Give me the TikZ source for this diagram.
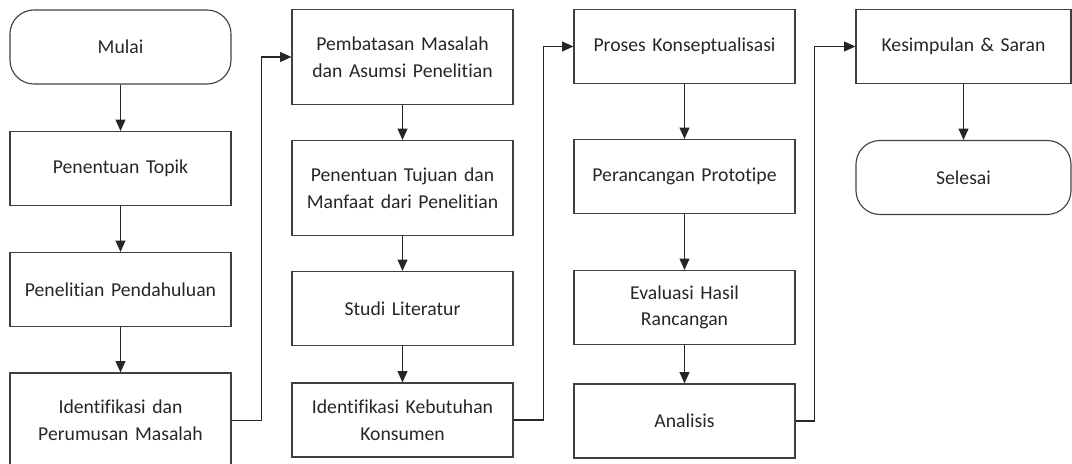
\documentclass[tikz,border=0pt]{standalone}
\usepackage{fontspec}
\setmainfont[Ligatures=NoCommon]{Carlito}
\usetikzlibrary{arrows.meta}
\begin{document}
\begin{tikzpicture}[x=0.025cm, y=-0.025cm,
    box/.style={draw=black!75, line width=0.8pt, minimum width=5.525cm,
      minimum height=1.85cm, text width=5.3cm, align=center, inner sep=0pt,
      text=black!85, font=\fontsize{14}{19}\selectfont},
    tall/.style={minimum height=2.375cm},
    term/.style={box, rounded corners=0.6cm},
    >={Triangle[length=8pt,width=7pt]}]
  \useasboundingbox (0,0) rectangle (1072,464);
  % column 1
  \node[term] (mulai) at (120.5,47) {Mulai};
  \node[box] (topik) at (120.5,168.5) {Penentuan Topik};
  \node[box] (pendahuluan) at (120.5,289.5) {Penelitian Pendahuluan};
  \node[box, tall] (identifikasi) at (120.5,420.5) {Identifikasi dan\\Perumusan Masalah};
  % column 2
  \node[box, tall] (pembatasan) at (402.5,57) {Pembatasan Masalah\\dan Asumsi Penelitian};
  \node[box, tall] (tujuan) at (402.5,188) {Penentuan Tujuan dan\\Manfaat dari Penelitian};
  \node[box] (literatur) at (402.5,308.5) {Studi Literatur};
  \node[box] (kebutuhan) at (402.5,420) {Identifikasi Kebutuhan\\Konsumen};
  % column 3
  \node[box] (konsep) at (684.5,46.5) {Proses Konseptualisasi};
  \node[box] (prototipe) at (684.5,176.5) {Perancangan Prototipe};
  \node[box] (evaluasi) at (684.5,307.5) {Evaluasi Hasil\\Rancangan};
  \node[box] (analisis) at (684.5,421) {Analisis};
  % column 4
  \node[box, minimum width=5.375cm] (kesimpulan) at (963.5,46.5) {Kesimpulan \& Saran};
  \node[term, minimum width=5.375cm] (selesai) at (963.5,177.5) {Selesai};
  \begin{scope}[->, draw=black!85, line width=0.8pt]
    \draw (mulai) to (topik);
    \draw (topik) to (pendahuluan);
    \draw (pendahuluan) to (identifikasi);
    \draw (identifikasi.east) -- ++(30,0) |- (pembatasan.west);
    \draw (pembatasan) to (tujuan);
    \draw (tujuan) to (literatur);
    \draw (literatur) to (kebutuhan);
    \draw (kebutuhan.east) -- ++(30,0) |- (konsep.west);
    \draw (konsep) to (prototipe);
    \draw (prototipe) to (evaluasi);
    \draw (evaluasi) to (analisis);
    \draw (analisis.east) -- ++(19,0) |- (kesimpulan.west);
    \draw (kesimpulan) to (selesai);
  \end{scope}
\end{tikzpicture}
\end{document}
